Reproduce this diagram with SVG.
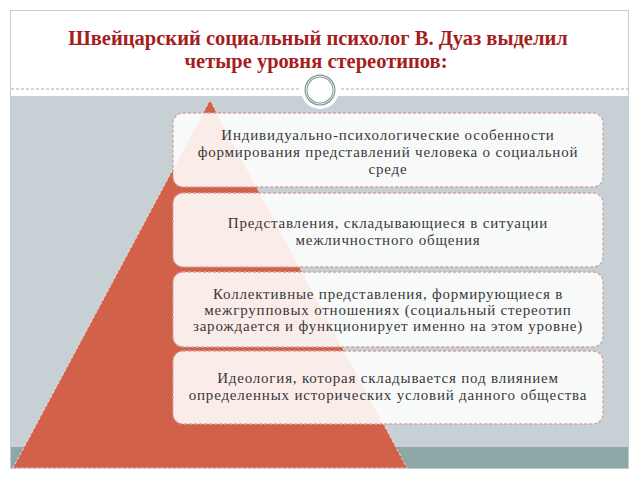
<svg xmlns="http://www.w3.org/2000/svg" width="640" height="480" viewBox="0 0 640 480">
<style>
.title{font-family:"Liberation Serif","Times New Roman",serif;font-weight:bold;font-size:20.5px;fill:#a51d1d;text-anchor:middle}
.box{fill:#ffffff;fill-opacity:0.88;stroke:#d3a3a3;stroke-width:1.3;stroke-dasharray:3 2}
.t{font-family:"Liberation Serif","Times New Roman",serif;font-size:15px;letter-spacing:0.8px;fill:#383838;text-anchor:middle}
</style>
<rect x="0" y="0" width="640" height="480" fill="#ffffff"/>
<rect x="10.5" y="10.5" width="618" height="458" fill="#ffffff" stroke="#c8cccc" stroke-width="1"/>
<rect x="11" y="96" width="617" height="372" fill="#c6d0d5"/>
<rect x="11" y="447" width="617" height="21" fill="#8ea8a7"/>
<line x1="11" y1="89" x2="628" y2="89" stroke="#a9acab" stroke-width="1" stroke-dasharray="3 2"/>
<g id="circle">
<circle cx="320" cy="90" r="19" fill="#ffffff"/>
<circle cx="320" cy="90" r="14" fill="#ffffff" stroke="#7f9a93" stroke-width="3"/>
<circle cx="320" cy="90" r="14" fill="none" stroke="#ffffff" stroke-width="0.8"/>
</g>
<g id="title">
<text class="title" x="318" y="45">Швейцарский социальный психолог В. Дуаз выделил</text>
<text class="title" x="316" y="68">четыре уровня стереотипов:</text>
</g>
<g id="pyramid">
<polygon points="210,100 13,468 407,468" fill="#d2614a" stroke="#f4d5cd" stroke-width="1" stroke-dasharray="3 2"/>
</g>
<g id="level1">
<rect class="box" x="173" y="113" width="430" height="74" rx="10"/>
<text class="t" x="388" y="140">Индивидуально-психологические особенности</text>
<text class="t" x="388" y="157">формирования представлений человека о социальной</text>
<text class="t" x="388" y="174">среде</text>
</g>
<g id="level2">
<rect class="box" x="173" y="193" width="430" height="74" rx="10"/>
<text class="t" x="388" y="228">Представления, складывающиеся в ситуации</text>
<text class="t" x="388" y="245">межличностного общения</text>
</g>
<g id="level3">
<rect class="box" x="173" y="272" width="430" height="75" rx="10"/>
<text class="t" x="388" y="299">Коллективные представления, формирующиеся в</text>
<text class="t" x="388" y="315">межгрупповых отношениях (социальный стереотип</text>
<text class="t" x="388" y="331">зарождается и функционирует именно на этом уровне)</text>
</g>
<g id="level4">
<rect class="box" x="173" y="351" width="430" height="73" rx="10"/>
<text class="t" x="388" y="383">Идеология, которая складывается под влиянием</text>
<text class="t" x="388" y="400">определенных исторических условий данного общества</text>
</g>
</svg>
